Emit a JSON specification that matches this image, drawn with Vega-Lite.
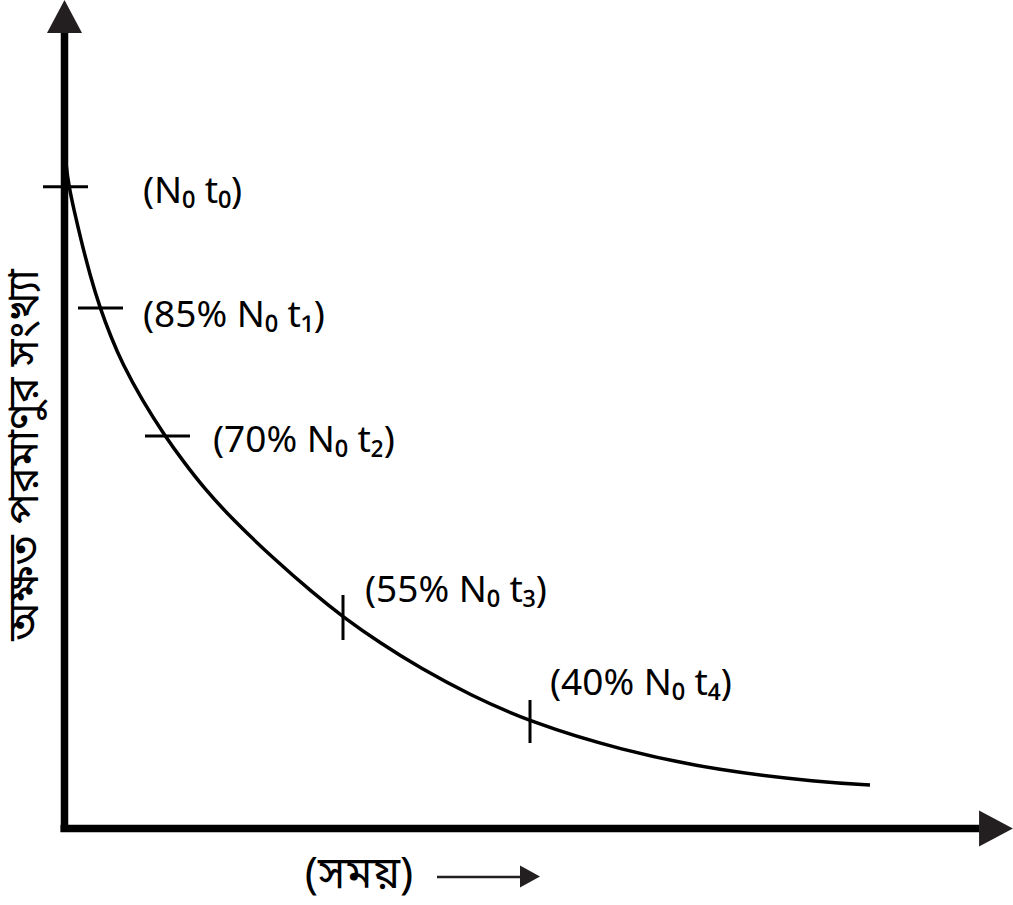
{
  "$schema": "https://vega.github.io/schema/vega-lite/v6.json",
  "width": 1013,
  "height": 905,
  "autosize": "none",
  "padding": 0,
  "background": "white",
  "config": {"view": {"stroke": null}},
  "datasets": {
    "axes": [
      {"x": 0, "y": -3.5, "x2": 0, "y2": 796},
      {"x": -4, "y": 0, "x2": 915, "y2": 0}
    ],
    "heads": [
      {"x": 0, "y": 812, "dir": "up"},
      {"x": 931.5, "y": 0, "dir": "right"}
    ],
    "smallhead": [{"x": 465.5, "y": -48}],
    "smallline": [{"x": 372.5, "x2": 458, "y": -48.5, "y2": -48.5}],
    "curve": [
      {"t": 0, "n": 688.5},
      {"t": 0.6, "n": 678},
      {"t": 1.5, "n": 663.5},
      {"t": 4.5, "n": 641.5},
      {"t": 9.5, "n": 618.5},
      {"t": 16.5, "n": 588.5},
      {"t": 25.5, "n": 553.5},
      {"t": 35.5, "n": 520.5},
      {"t": 46.5, "n": 491.5},
      {"t": 57.5, "n": 465.5},
      {"t": 77.5, "n": 428.5},
      {"t": 100.5, "n": 392.5},
      {"t": 118.5, "n": 367.5},
      {"t": 138.5, "n": 341.5},
      {"t": 168.5, "n": 308.5},
      {"t": 208.5, "n": 270.5},
      {"t": 248.5, "n": 235.5},
      {"t": 278.5, "n": 211.5},
      {"t": 315.5, "n": 185.5},
      {"t": 355.5, "n": 160.5},
      {"t": 405.5, "n": 133.5},
      {"t": 465.5, "n": 106.5},
      {"t": 555.5, "n": 78.5},
      {"t": 655.5, "n": 57.5},
      {"t": 755.5, "n": 46.5},
      {"t": 805.5, "n": 43.5}
    ],
    "ticks": [
      {"x": -21.5, "x2": 23.5, "y": 641.8, "y2": 641.8},
      {"x": 13.5, "x2": 58.5, "y": 520.5, "y2": 520.5},
      {"x": 80.5, "x2": 125.5, "y": 392.5, "y2": 392.5},
      {"x": 278.5, "x2": 278.5, "y": 233.5, "y2": 188.5},
      {"x": 465.5, "x2": 465.5, "y": 128.5, "y2": 85.5}
    ],
    "labels": [
      {"x": 78.5, "y": 625.5, "label": "(N₀ t₀)"},
      {"x": 78.5, "y": 501.5, "label": "(85% N₀ t₁)"},
      {"x": 148.5, "y": 376.5, "label": "(70% N₀ t₂)"},
      {"x": 300.5, "y": 226.5, "label": "(55% N₀ t₃)"},
      {"x": 485.5, "y": 133.5, "label": "(40% N₀ t₄)"}
    ],
    "ytitle": [{"x": -40, "y": 373.5, "label": "অক্ষত পরমাণুর সংখ্যা"}],
    "xtitle": [{"x": 294.5, "y": -46.5, "label": "(সময়)"}]
  },
  "layer": [
    {
      "data": {"name": "axes"},
      "mark": {"type": "rule", "strokeWidth": 7.5, "color": "#000000", "strokeCap": "butt"},
      "encoding": {
        "x": {"field": "x", "type": "quantitative", "scale": {"domain": [-64.5, 948.5], "nice": false, "zero": false}, "axis": null},
        "y": {"field": "y", "type": "quantitative", "scale": {"domain": [-76.5, 828.5], "nice": false, "zero": false}, "axis": null},
        "x2": {"field": "x2"},
        "y2": {"field": "y2"}
      }
    },
    {
      "data": {"name": "heads"},
      "transform": [{"filter": "datum.dir === 'up'"}],
      "mark": {"type": "point", "filled": true, "color": "#231f20", "opacity": 1, "shape": "M0,-0.94L1,0.94L-1,0.94Z", "size": 1225},
      "encoding": {
        "x": {"field": "x", "type": "quantitative", "axis": null},
        "y": {"field": "y", "type": "quantitative", "axis": null}
      }
    },
    {
      "data": {"name": "heads"},
      "transform": [{"filter": "datum.dir === 'right'"}],
      "mark": {"type": "point", "filled": true, "color": "#231f20", "opacity": 1, "shape": "M0.94,0L-0.94,-1L-0.94,1Z", "size": 1296},
      "encoding": {
        "x": {"field": "x", "type": "quantitative", "axis": null},
        "y": {"field": "y", "type": "quantitative", "axis": null}
      }
    },
    {
      "data": {"name": "smallline"},
      "mark": {"type": "rule", "strokeWidth": 2.5, "color": "#231f20"},
      "encoding": {
        "x": {"field": "x", "type": "quantitative", "axis": null},
        "y": {"field": "y", "type": "quantitative", "axis": null},
        "x2": {"field": "x2"},
        "y2": {"field": "y2"}
      }
    },
    {
      "data": {"name": "smallhead"},
      "mark": {"type": "point", "filled": true, "color": "#231f20", "opacity": 1, "shape": "M0.91,0L-0.91,-1L-0.91,1Z", "size": 484},
      "encoding": {
        "x": {"field": "x", "type": "quantitative", "axis": null},
        "y": {"field": "y", "type": "quantitative", "axis": null}
      }
    },
    {
      "data": {"name": "curve"},
      "mark": {"type": "line", "strokeWidth": 3.5, "color": "#000000", "interpolate": "basis"},
      "encoding": {
        "x": {"field": "t", "type": "quantitative", "axis": null},
        "y": {"field": "n", "type": "quantitative", "axis": null}
      }
    },
    {
      "data": {"name": "ticks"},
      "mark": {"type": "rule", "strokeWidth": 3, "color": "#000000"},
      "encoding": {
        "x": {"field": "x", "type": "quantitative", "axis": null},
        "y": {"field": "y", "type": "quantitative", "axis": null},
        "x2": {"field": "x2"},
        "y2": {"field": "y2"}
      }
    },
    {
      "data": {"name": "labels"},
      "mark": {"type": "text", "align": "left", "baseline": "alphabetic", "font": "Noto Sans", "fontSize": 37, "color": "#000000"},
      "encoding": {
        "x": {"field": "x", "type": "quantitative", "axis": null},
        "y": {"field": "y", "type": "quantitative", "axis": null},
        "text": {"field": "label", "type": "nominal"}
      }
    },
    {
      "data": {"name": "ytitle"},
      "mark": {"type": "text", "align": "center", "baseline": "middle", "angle": 270, "font": "Noto Sans Bengali, Noto Sans, sans-serif", "fontSize": 43, "color": "#000000"},
      "encoding": {
        "x": {"field": "x", "type": "quantitative", "axis": null},
        "y": {"field": "y", "type": "quantitative", "axis": null},
        "text": {"field": "label", "type": "nominal"}
      }
    },
    {
      "data": {"name": "xtitle"},
      "mark": {"type": "text", "align": "center", "baseline": "middle", "font": "Noto Sans Bengali, Noto Sans, sans-serif", "fontSize": 44, "color": "#000000"},
      "encoding": {
        "x": {"field": "x", "type": "quantitative", "axis": null},
        "y": {"field": "y", "type": "quantitative", "axis": null},
        "text": {"field": "label", "type": "nominal"}
      }
    }
  ]
}
